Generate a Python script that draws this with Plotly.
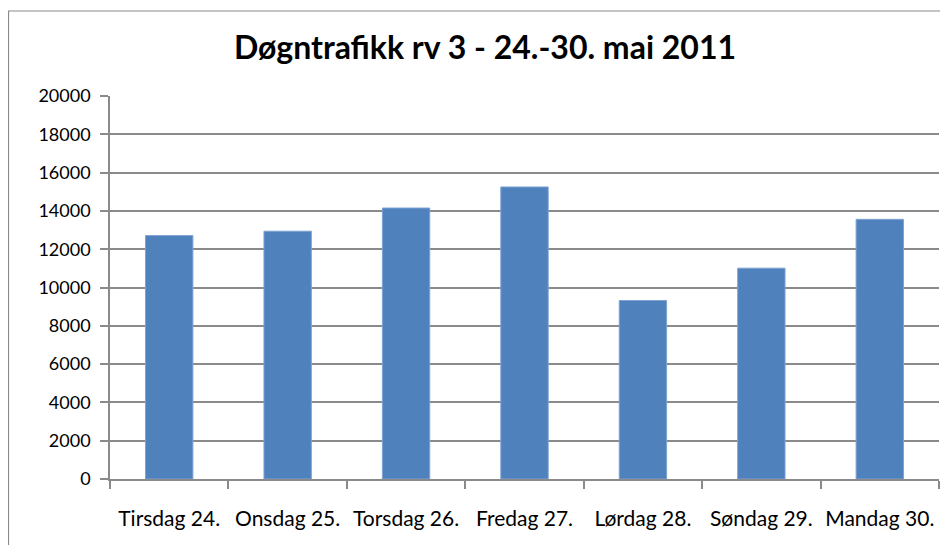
import plotly.graph_objects as go

# Data
days = ["Tirsdag 24.", "Onsdag 25.", "Torsdag 26.", "Fredag 27.",
        "Lørdag 28.", "Søndag 29.", "Mandag 30."]
traffic = [12710, 12940, 14150, 15250, 9320, 11010, 13560]
y_ticks = list(range(0, 20001, 2000))

# page body has an 8px margin, so the figure is a little smaller than the window
W, H = 940, 537
L, R, T, B = 102, 9, 88, 66
plot_w = W - L - R
plot_h = H - T - B

GREY = "#8A8A8A"
FONT = "Lato"

fig = go.Figure()
fig.add_trace(go.Bar(
    x=days,
    y=traffic,
    marker=dict(color="#4F81BD", line=dict(color="#7FA3D3", width=1)),
))

fig.update_layout(
    width=W,
    height=H,
    margin=dict(l=L, r=R, t=T, b=B, pad=0, autoexpand=False),
    paper_bgcolor="white",
    plot_bgcolor="white",
    showlegend=False,
    bargap=0.6,
    font=dict(family=FONT, color="black"),
    title=dict(
        text="<b>Døgntrafikk rv 3 - 24.-30. mai 2011</b>",
        x=477 / W, xanchor="center", xref="container",
        y=1 - 40 / H, yanchor="middle", yref="container",
        font=dict(size=32, family=FONT, color="black"),
    ),
)

fig.update_yaxes(
    range=[0, 20000],
    tickvals=y_ticks,
    ticktext=[str(v) for v in y_ticks],
    showgrid=True, gridcolor=GREY, gridwidth=1.6,
    showline=True, linecolor=GREY, linewidth=1.6,
    ticks="outside", ticklen=8, tickcolor=GREY, tickwidth=1.6,
    tickfont=dict(size=18, family=FONT, color="black"),
    ticklabelstandoff=6,
    zeroline=False,
    automargin=False,
)
fig.update_xaxes(
    showgrid=False,
    showline=True, linecolor=GREY, linewidth=1.6,
    ticks="outside", tickson="boundaries", ticklen=8,
    tickcolor=GREY, tickwidth=1.6,
    tickfont=dict(size=21, family=FONT, color="black"),
    tickangle=0,
    ticklabelstandoff=20,
    automargin=False,
)

# chart-area border (runs off the right and bottom edge of the picture)
fig.add_shape(
    type="rect", xref="paper", yref="paper",
    x0=(0.5 - L) / plot_w, x1=1.2,
    y0=-0.5, y1=(H - B - 3) / plot_h,
    line=dict(color=GREY, width=1.2),
    fillcolor="rgba(0,0,0,0)", layer="below",
)

fig.write_html("out.html")
